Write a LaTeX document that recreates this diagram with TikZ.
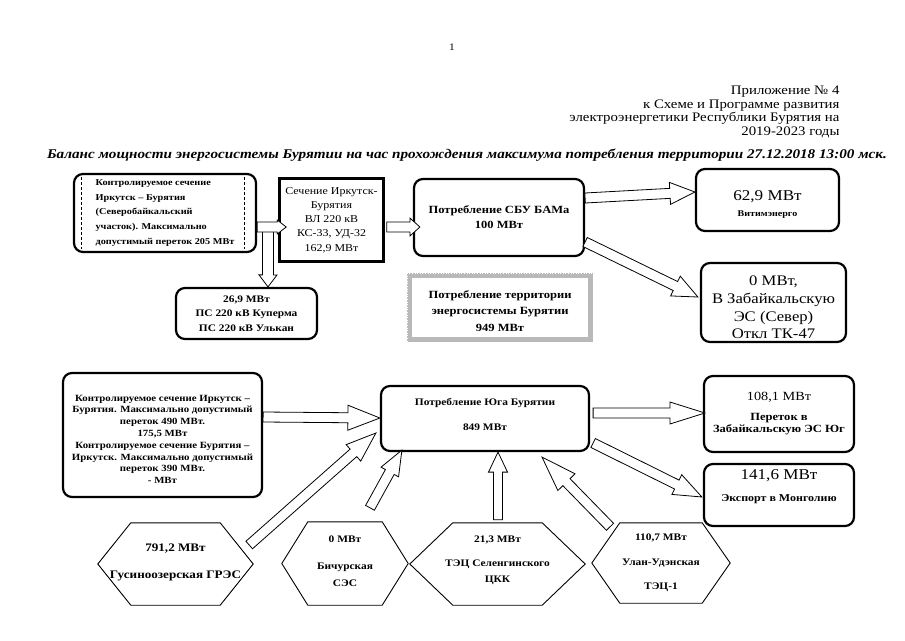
\documentclass[tikz,border=0pt]{standalone}
\usepackage{fontspec}
\setmainfont{Liberation Serif}[FakeStretch=1.14]
\usetikzlibrary{calc}
\newcommand\fsz[2]{\fontsize{#1pt}{#2pt}\selectfont}
\newcommand\barrow[5]{%
  \path (#1) coordinate (baS) (#2) coordinate (baT);
  \path ($(baT)!#5pt!(baS)$) coordinate (baB);
  \draw[blockarr] ($(baS)!#3pt!90:(baT)$) -- ($(baB)!#3pt!-90:(baS)$) -- ($(baB)!#4pt!-90:(baS)$) -- (baT) -- ($(baB)!#4pt!90:(baS)$) -- ($(baB)!#3pt!90:(baS)$) -- ($(baS)!#3pt!-90:(baT)$) -- cycle;
}
\newcommand\hexdraw[2]{%
  \draw[hexline] (#1.west) -- ([xshift=#2pt]#1.north west) -- ([xshift=-#2pt]#1.north east) -- (#1.east) -- ([xshift=-#2pt]#1.south east) -- ([xshift=#2pt]#1.south west) -- cycle;
}
\tikzset{
  blockarr/.style={draw=black, fill=white, line width=0.8pt, line join=miter},
  rbox/.style={draw=black, line width=2.2pt, rounded corners=9pt, inner sep=0pt, align=center, fill=white},
  sbox/.style={draw=black, line width=2.6pt, inner sep=0pt, align=center, fill=white},
  hexnode/.style={inner sep=0pt, align=center},
  hexline/.style={draw=black, line width=0.9pt, line join=miter},
}
\begin{document}
\begin{tikzpicture}[x=1pt,y=-1pt]
\useasboundingbox (0,0) rectangle (905,640);
\fill[white] (0,0) rectangle (905,640);

% header texts
\node[font=\fsz{10}{12}] (pg) at (452,47) {1};
\node[anchor=east, align=right, font=\fsz{13}{13.8}] (hdr) at (843,112) {Приложение № 4\\к Схеме и Программе развития\\электроэнергетики Республики Бурятия на\\2019-2023 годы};
\node[font=\fsz{13.3}{15}\bfseries\itshape] (ttl) at (467,155) {Баланс мощности энергосистемы Бурятии на час прохождения максимума потребления территории 27.12.2018 13:00 мск.};

% top row
\node[rbox, minimum width=182pt, minimum height=78pt, align=left, font=\fsz{9}{14.7}\bfseries] (b1) at (165,213) {Контролируемое сечение\\Иркутск – Бурятия\\(Северобайкальский\\участок). Максимально\\допустимый переток 205 МВт};
\draw[dashed, line width=0.6pt, dash pattern=on 3pt off 2pt] ([xshift=8pt,yshift=-4pt]b1.north west) -- ([xshift=8pt,yshift=4pt]b1.south west);
\draw[dashed, line width=0.6pt, dash pattern=on 3pt off 2pt] ([xshift=-13pt,yshift=-4pt]b1.north east) -- ([xshift=-13pt,yshift=4pt]b1.south east);

\node[sbox, minimum width=104pt, minimum height=83pt, font=\fsz{10.5}{14.2}] (sech) at (331.5,220) {Сечение Иркутск-\\Бурятия\\ВЛ 220 кВ\\КС-33, УД-32\\162,9 МВт};

\node[rbox, minimum width=141pt, minimum height=51pt, font=\fsz{10}{14.5}\bfseries] (b3) at (246.5,313.5) {26,9 МВт\\ПС 220 кВ Куперма\\ПС 220 кВ Улькан};

\node[rbox, minimum width=170pt, minimum height=77pt, font=\fsz{11}{15}\bfseries] (sbu) at (499,217.5) {Потребление СБУ БАМа\\100 МВт};

\node[rbox, minimum width=143pt, minimum height=62pt] (vit) at (767.5,200) {\rule{0pt}{18pt}\fsz{15}{18}62,9 МВт\\[4pt]\fsz{8.8}{11}\bfseries Витимэнерго};

\node[rbox, minimum width=145pt, minimum height=79pt, font=\fsz{14.6}{17.7}] (zab) at (773.5,302.5) {\rule{0pt}{20pt}0 МВт,\\В Забайкальскую\\ЭС (Север)\\Откл ТК-47};

\node[draw=gray!55, line width=5pt, minimum width=181pt, minimum height=64pt, inner sep=0pt, align=center, font=\fsz{11}{16.5}\bfseries] (terr) at (500,307.5) {\rule{0pt}{15pt}Потребление территории\\энергосистемы Бурятии\\949 МВт};
\draw[white, line width=0.6pt, dotted] (terr.north west) rectangle (terr.south east);

% bottom part
\node[rbox, minimum width=199pt, minimum height=124pt, font=\fsz{9.5}{11.8}\bfseries] (ml) at (162.5,435) {\rule{0pt}{15pt}Контролируемое сечение Иркутск –\\Бурятия. Максимально допустимый\\переток 490 МВт.\\175,5 МВт\\Контролируемое сечение Бурятия –\\Иркутск. Максимально допустимый\\переток 390 МВт.\\- МВт};

\node[rbox, minimum width=208pt, minimum height=65pt, font=\fsz{10}{25}\bfseries] (yug) at (485,418.5) {Потребление Юга Бурятии\\849 МВт\\[-17pt]\mbox{}};

\node[rbox, minimum width=150pt, minimum height=76pt] (per) at (779,414) {\fsz{12.5}{14}108,1 МВт\\[8pt]\fsz{11}{15}\bfseries Переток в\\\fsz{11}{15}\bfseries Забайкальскую ЭС Юг};

\node[rbox, minimum width=150pt, minimum height=62pt] (exp) at (779,495) {\fsz{15}{17}141,6 МВт\\[10pt]\fsz{10.5}{13}\bfseries Экспорт в Монголию\\[6pt]\mbox{}};

% hexagons
\node[hexnode, minimum width=155pt, minimum height=82pt, font=\fsz{11.5}{27}\bfseries] (gus) at (175.5,564) {791,2 МВт\\Гусиноозерская ГРЭС\\[-22pt]\mbox{}};
\hexdraw{gus}{33}
\node[hexnode, minimum width=126pt, minimum height=83pt, font=\fsz{10}{17}\bfseries] (bic) at (345,563.5) {0 МВт\\[10pt]Бичурская\\СЭС\\[-12pt]\mbox{}};
\hexdraw{bic}{26}
\node[hexnode, minimum width=175pt, minimum height=82pt, font=\fsz{10}{16}\bfseries] (sel) at (497.5,564) {21,3 МВт\\[8pt]ТЭЦ Селенгинского\\ЦКК\\[-6pt]\mbox{}};
\hexdraw{sel}{43}
\node[hexnode, minimum width=138pt, minimum height=80pt, font=\fsz{10}{24.5}\bfseries] (ulan) at (661,563) {110,7 МВт\\Улан-Удэнская\\ТЭЦ-1};
\hexdraw{ulan}{28}

% arrows
\barrow{$(b1.east)+(11,14)$}{$(b3.north)+(21.5,0)$}{5.5}{9}{12}
\barrow{$(b1.east)+(0,14)$}{$(sech.west)+(8,7)$}{5}{7}{9}
\barrow{$(sech.east)+(2,7)$}{$(sbu.west)+(7,9.5)$}{5}{9}{10}
\barrow{$(sbu.east)+(0,-19.5)$}{$(vit.west)+(0,-8)$}{5}{11}{25}
\barrow{$(sbu.east)+(0,24.5)$}{$(zab.west)+(-2,-5.5)$}{5}{11}{25}
\barrow{$(ml.east)+(0,-18)$}{$(yug.west)+(0,-0.5)$}{5}{12.5}{32}
\barrow{$(yug.east)+(3,-5.5)$}{$(per.west)+(2,-1)$}{5}{11}{35}
\barrow{$(yug.east)+(3,24.5)$}{$(exp.west)+(-1,2)$}{5}{11}{28}
\barrow{$(gus.east)+(-4,-19)$}{$(yug.west)+(-4,14.5)$}{5}{11}{30}
\barrow{$(bic.north)+(25,-14)$}{$(yug.south west)+(22,-2)$}{5}{10}{25}
\barrow{$(sel.north)+(0.5,-3)$}{$(yug.south)+(13,0)$}{4.5}{9.5}{20}
\barrow{$(ulan.north)+(-51,4)$}{$(yug.south)+(57,5)$}{5}{12}{35}
\end{tikzpicture}
\end{document}
